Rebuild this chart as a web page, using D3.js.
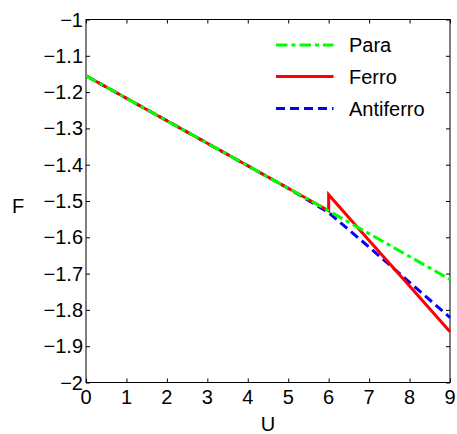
<!DOCTYPE html>
<html>
<head>
<meta charset="utf-8">
<script src="https://cdn.jsdelivr.net/npm/d3@7"></script>
<style>
  html, body { margin: 0; padding: 0; background: #fff; }
  svg { display: block; }
  text { font-family: Arial, "Liberation Sans", Helvetica, sans-serif; fill: #000; }
</style>
</head>
<body>
<svg id="chart" width="457" height="434"></svg>
<script>
// Free energy F versus interaction U for three phases
const uTicks = [0, 1, 2, 3, 4, 5, 6, 7, 8, 9];
const fTicks = [-1, -1.1, -1.2, -1.3, -1.4, -1.5, -1.6, -1.7, -1.8, -1.9, -2];

const paraU = [0, 1, 2, 3, 4, 5, 6, 7, 8, 9];
const paraF = [-1.155, -1.217, -1.279, -1.341, -1.403, -1.465, -1.527, -1.590, -1.653, -1.716];

const ferroU = [0, 1, 2, 3, 4, 5, 6, 6, 7, 8, 9];
const ferroF = [-1.155, -1.217, -1.279, -1.341, -1.403, -1.465, -1.527, -1.483, -1.609, -1.734, -1.860];

const antiU = [0, 1, 2, 3, 4, 5, 6, 7, 8, 9];
const antiF = [-1.155, -1.217, -1.279, -1.341, -1.403, -1.465, -1.532, -1.627, -1.724, -1.821];

const seriesNames = ["Para", "Ferro", "Antiferro"];
const seriesColors = ["#00ff00", "#ff0000", "#0000ff"];
const seriesDash = ["11.5,4,4,4", null, "9,5"];

const svg = d3.select("#chart");
const plotLeft = 86, plotRight = 450, plotTop = 19.5, plotBottom = 382.5;

const x = d3.scaleLinear().domain([0, 9]).range([plotLeft, plotRight]);
const y = d3.scaleLinear().domain([-2, -1]).range([plotBottom, plotTop]);

const minus = s => s.replace("-", "\u2212");
const tickLen = 4;

// Frame
svg.append("rect")
  .attr("x", plotLeft).attr("y", plotTop)
  .attr("width", plotRight - plotLeft).attr("height", plotBottom - plotTop)
  .attr("fill", "none").attr("stroke", "#000").attr("stroke-width", 1);

// Axes with inward ticks on all four sides
const axB = d3.axisBottom(x).tickValues(uTicks).tickSize(-tickLen).tickFormat("");
const axT = d3.axisTop(x).tickValues(uTicks).tickSize(-tickLen).tickFormat("");
const axL = d3.axisLeft(y).tickValues(fTicks).tickSize(-tickLen).tickFormat("");
const axR = d3.axisRight(y).tickValues(fTicks).tickSize(-tickLen).tickFormat("");
[[axB, `translate(0,${plotBottom})`], [axT, `translate(0,${plotTop})`],
 [axL, `translate(${plotLeft},0)`], [axR, `translate(${plotRight},0)`]].forEach(([ax, tr]) => {
  const g = svg.append("g").attr("transform", tr).call(ax);
  g.select(".domain").remove();
  g.selectAll(".tick line").attr("stroke", "#000");
});

// Tick labels
svg.append("g").selectAll("text").data(uTicks).join("text")
  .attr("x", d => x(d)).attr("y", plotBottom + 21)
  .attr("text-anchor", "middle").attr("font-size", 20)
  .text(d => d);

svg.append("g").selectAll("text").data(fTicks).join("text")
  .attr("x", plotLeft - 3).attr("y", d => y(d) + 7)
  .attr("text-anchor", "end").attr("font-size", 20)
  .text(d => minus(d3.format("")(d)));

// Axis titles
svg.append("text").attr("x", (plotLeft + plotRight) / 2).attr("y", 431)
  .attr("text-anchor", "middle").attr("font-size", 20).text("U");
svg.append("text").attr("x", 18).attr("y", 213)
  .attr("text-anchor", "middle").attr("font-size", 20).text("F");

// Curves (Antiferro underneath, Para on top)
const line = d3.line().x(d => x(d[0])).y(d => y(d[1]));
const series = [
  d3.zip(paraU, paraF),
  d3.zip(ferroU, ferroF),
  d3.zip(antiU, antiF)
];
const plotG = svg.append("g");
[2, 1, 0].forEach(i => {
  plotG.append("path")
    .attr("d", line(series[i]))
    .attr("fill", "none")
    .attr("stroke", seriesColors[i])
    .attr("stroke-width", 3)
    .attr("stroke-dasharray", seriesDash[i])
    .attr("stroke-linejoin", "miter");
});

// Legend
const legY = [45, 76.5, 108.5];
const leg = svg.append("g");
seriesNames.forEach((name, i) => {
  leg.append("line")
    .attr("x1", 276).attr("x2", 333.5)
    .attr("y1", legY[i]).attr("y2", legY[i])
    .attr("stroke", seriesColors[i]).attr("stroke-width", 3)
    .attr("stroke-dasharray", seriesDash[i]);
  leg.append("text")
    .attr("x", 349).attr("y", legY[i] + 7)
    .attr("font-size", 20).text(name);
});
</script>
</body>
</html>
